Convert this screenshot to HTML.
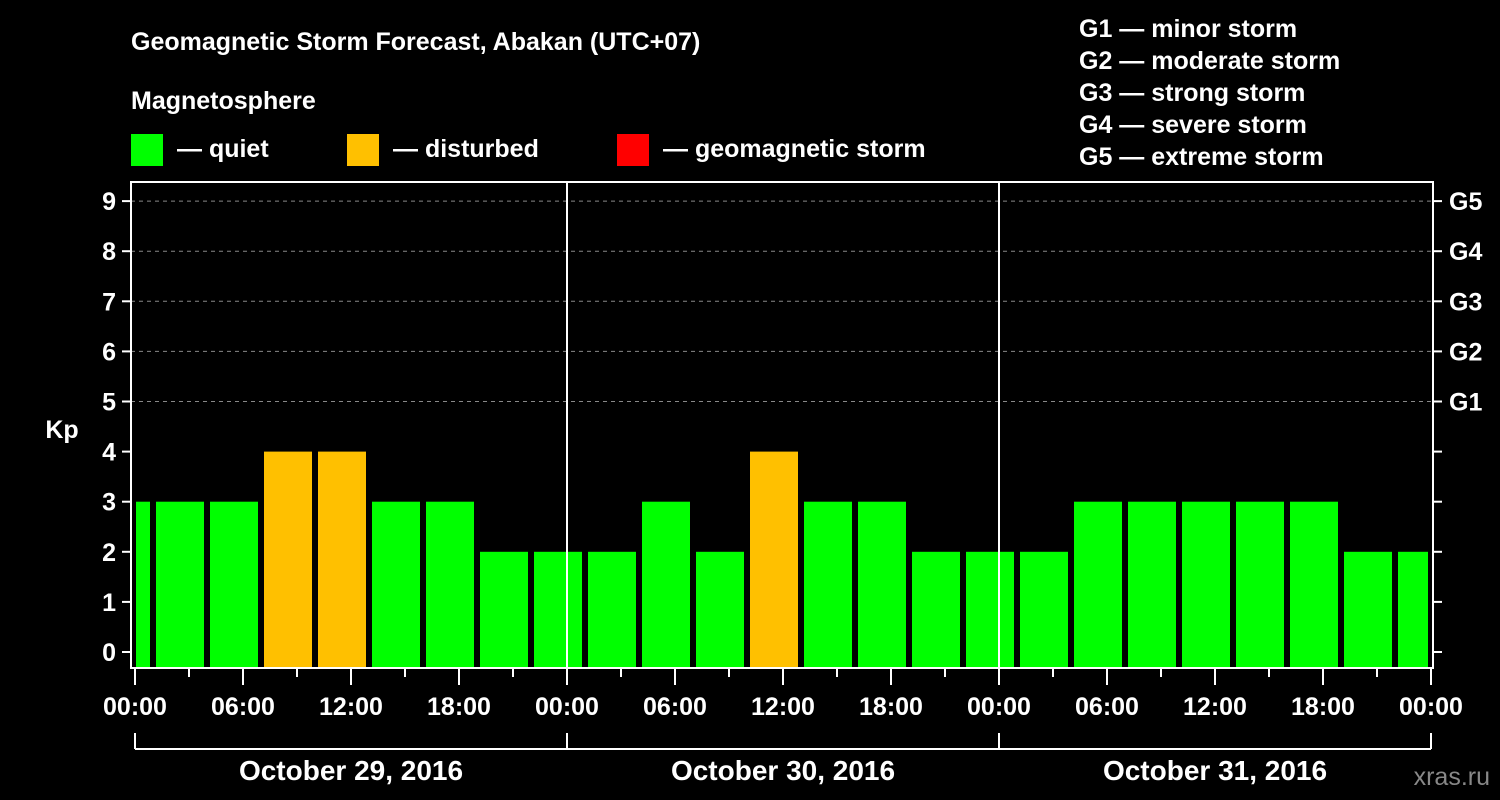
<!DOCTYPE html>
<html><head><meta charset="utf-8"><style>
html,body{margin:0;padding:0;background:#000;}
svg{display:block;font-family:"Liberation Sans",Arial,sans-serif;font-weight:bold;}
</style></head><body>
<svg id="chart" width="1500" height="800" viewBox="0 0 1500 800">
<text x="131" y="50" fill="#fff" font-size="25">Geomagnetic Storm Forecast, Abakan (UTC+07)</text>
<text x="131" y="109" fill="#fff" font-size="25">Magnetosphere</text>
<g><rect x="131" y="134" width="32" height="32" fill="#00ff00"/><text x="177" y="157" fill="#fff" font-size="25">— quiet</text></g>
<g><rect x="347" y="134" width="32" height="32" fill="#ffc000"/><text x="393" y="157" fill="#fff" font-size="25">— disturbed</text></g>
<g><rect x="617" y="134" width="32" height="32" fill="#ff0000"/><text x="663" y="157" fill="#fff" font-size="25">— geomagnetic storm</text></g>
<g fill="#fff" font-size="25">
<text x="1079" y="37">G1 — minor storm</text>
<text x="1079" y="69">G2 — moderate storm</text>
<text x="1079" y="101">G3 — strong storm</text>
<text x="1079" y="133">G4 — severe storm</text>
<text x="1079" y="165">G5 — extreme storm</text>
</g>
<text x="62" y="438" fill="#fff" font-size="25" text-anchor="middle">Kp</text>
<text x="1490" y="785" fill="#888" font-size="25" text-anchor="end" font-weight="normal">xras.ru</text>
<g id="grid"></g><g id="bars"></g><g id="axes"></g>
</svg>
<script>
const kpValues=[3,3,3,4,4,3,3,2,2,2,3,2,4,3,3,2,2,2,3,3,3,3,3,2,2];
const firstSlotHour=-2; // slot start hour of first bar (3h slots)
const dayLabels=["October 29, 2016","October 30, 2016","October 31, 2016"];
const timeLabels=["00:00","06:00","12:00","18:00"];
const gLabels=["G1","G2","G3","G4","G5"];
const NS="http://www.w3.org/2000/svg";
const L=131,R=1433,T=182,B=668,X0=135,PXH=18;
const x=h=>X0+h*PXH, y=k=>652-k*50.1;
function mk(t,a,p){const e=document.createElementNS(NS,t);for(const k in a)e.setAttribute(k,a[k]);p.appendChild(e);return e;}
const grid=document.getElementById('grid'),bars=document.getElementById('bars'),axes=document.getElementById('axes');
for(let k=5;k<=9;k++){const l=mk('line',{x1:L,x2:R,y1:y(k),y2:y(k),stroke:'#888','stroke-dasharray':'4,4'},grid);

}
kpValues.forEach((v,i)=>{const s=firstSlotHour+i*3;let a=x(s)+3,b=x(s+3)-3;a=Math.max(a,L+5);b=Math.min(b,R-5);if(b<=a)return;
const c=v>=5?'#ff0000':(v>=4?'#ffc000':'#00ff00');
const r=mk('rect',{x:a,y:y(v),width:b-a,height:B-1-y(v),fill:c},bars);

});
for(let d=1;d<3;d++){const l=mk('line',{x1:x(d*24),x2:x(d*24),y1:T,y2:B,stroke:'#fff','stroke-width':2},axes);

}
const f=mk('rect',{x:L,y:T,width:R-L,height:B-T,fill:'none',stroke:'#fff','stroke-width':2},axes);


for(let k=0;k<=9;k++){mk('line',{x1:122,x2:L,y1:y(k),y2:y(k),stroke:'#fff','stroke-width':2},axes);
const t=mk('text',{x:116,y:y(k)+9,fill:'#fff','font-size':25,'text-anchor':'end'},axes);t.textContent=k;


mk('line',{x1:R,x2:1442,y1:y(k),y2:y(k),stroke:'#fff','stroke-width':2},axes);}
gLabels.forEach((g,i)=>{const t=mk('text',{x:1449,y:y(5+i)+9,fill:'#fff','font-size':25},axes);t.textContent=g;

});
for(let h=0;h<=72;h+=3){const major=h%6===0;mk('line',{x1:x(h),x2:x(h),y1:B,y2:major?685:677,stroke:'#fff','stroke-width':2},axes);
if(major){const t=mk('text',{x:x(h),y:715,fill:'#fff','font-size':25,'text-anchor':'middle'},axes);t.textContent=timeLabels[(h/6)%4];

}}
mk('line',{x1:x(0),x2:x(72),y1:749,y2:749,stroke:'#fff','stroke-width':2},axes);
for(let d=0;d<=3;d++)mk('line',{x1:x(d*24),x2:x(d*24),y1:733,y2:749,stroke:'#fff','stroke-width':2},axes);
dayLabels.forEach((s,d)=>{const t=mk('text',{x:x(d*24+12),y:780,fill:'#fff','font-size':28,'text-anchor':'middle'},axes);t.textContent=s;

});
</script>
</body></html>
